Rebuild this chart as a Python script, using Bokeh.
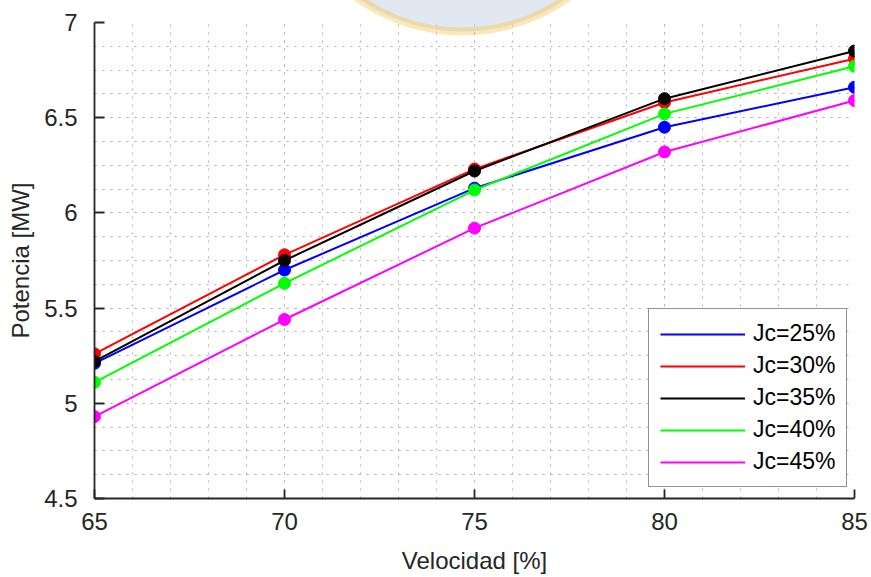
import numpy as np
from bokeh.plotting import figure
from bokeh.models import FixedTicker, Legend, LegendItem, NumeralTickFormatter
from bokeh.embed import file_html
from bokeh.resources import INLINE

# Generator power versus speed for several Jc settings
velocidad = [65, 70, 75, 80, 85]
jc_labels = ["Jc=25%", "Jc=30%", "Jc=35%", "Jc=40%", "Jc=45%"]
potencia_jc25 = [5.21, 5.70, 6.13, 6.45, 6.66]
potencia_jc30 = [5.26, 5.78, 6.23, 6.58, 6.81]
potencia_jc35 = [5.22, 5.75, 6.22, 6.60, 6.85]
potencia_jc40 = [5.11, 5.63, 6.12, 6.52, 6.77]
potencia_jc45 = [4.93, 5.44, 5.92, 6.32, 6.59]
series_colors = ["#0000ff", "#ff0000", "#000000", "#00ff00", "#ff00ff"]

x_ticks = [65, 70, 75, 80, 85]
y_ticks = [4.5, 5, 5.5, 6, 6.5, 7]

FONT = "Liberation Sans"
AXIS_COLOR = "#262626"

p = figure(
    width=871, height=577,
    x_range=(65, 85), y_range=(4.5, 7),
    output_backend="svg", toolbar_location=None,
    min_border_left=94, min_border_right=17,
    min_border_top=22, min_border_bottom=79,
)
p.outline_line_color = None
p.background_fill_color = "white"
p.border_fill_color = "white"

# faint logo watermark at the top of the page
p.circle(x=[74.684], y=[7.898], radius=180, radius_units="screen",
         fill_color="#c6d1e6", fill_alpha=0.5,
         line_color="#f5c24a", line_alpha=0.4, line_width=8,
         level="overlay")

# ticks and dotted grid
p.xaxis.ticker = FixedTicker(ticks=x_ticks, minor_ticks=list(np.arange(65, 85.01, 1.0)))
p.yaxis.ticker = FixedTicker(ticks=y_ticks, minor_ticks=list(np.arange(4.5, 7.001, 0.125)))
p.yaxis.formatter = NumeralTickFormatter(format="0.[0]")

for grid in (p.xgrid, p.ygrid):
    grid.grid_line_color = "#b0b0b0"
    grid.grid_line_dash = "2 6"
    grid.grid_line_width = 1
    grid.minor_grid_line_color = "#b0b0b0"
    grid.minor_grid_line_dash = "2 6"
    grid.minor_grid_line_width = 1

for ax in (p.xaxis, p.yaxis):
    ax.axis_line_color = AXIS_COLOR
    ax.axis_line_width = 1.8
    ax.major_tick_line_color = AXIS_COLOR
    ax.major_tick_line_width = 1.8
    ax.major_tick_out = 0
    ax.minor_tick_line_color = None
    ax.major_label_text_font = FONT
    ax.major_label_text_font_size = "24px"
    ax.major_label_text_color = AXIS_COLOR
    ax.axis_label_text_font = FONT
    ax.axis_label_text_font_size = "24px"
    ax.axis_label_text_font_style = "normal"
    ax.axis_label_text_color = AXIS_COLOR

p.xaxis.major_tick_in = 9
p.yaxis.major_tick_in = 10
p.xaxis.major_label_standoff = 10
p.yaxis.major_label_standoff = 13
p.xaxis.axis_label = "Velocidad [%]"
p.yaxis.axis_label = "Potencia [MW]"
p.xaxis.axis_label_standoff = 14
p.yaxis.axis_label_standoff = 7

all_series = [potencia_jc25, potencia_jc30, potencia_jc35, potencia_jc40, potencia_jc45]
items = []
for label, values, color in zip(jc_labels, all_series, series_colors):
    line = p.line(velocidad, values, line_color=color, line_width=2)
    p.scatter(velocidad, values, size=12, marker="circle",
              fill_color=color, line_color=color)
    items.append(LegendItem(label=label, renderers=[line]))

legend = Legend(
    items=items, location=(554, 11),
    glyph_width=85, glyph_height=22, label_height=22,
    label_standoff=8, spacing=5, padding=11, margin=0,
    label_text_font=FONT, label_text_font_size="23px", label_text_color="black",
    border_line_color=AXIS_COLOR, border_line_width=1.8,
    background_fill_color="white", background_fill_alpha=1.0,
)
p.add_layout(legend, "center")

open("out.html", "w").write(file_html(p, INLINE))
